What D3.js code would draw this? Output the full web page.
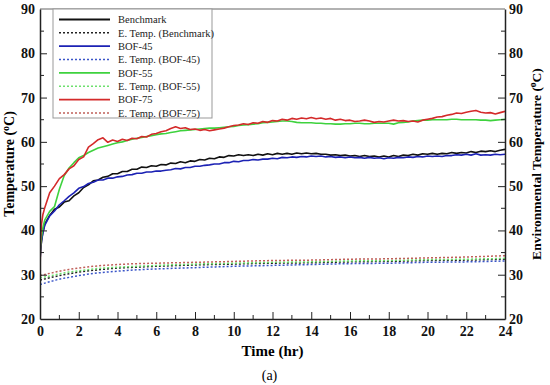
<!DOCTYPE html>
<html>
<head>
<meta charset="utf-8">
<script src="https://cdn.jsdelivr.net/npm/d3@7"></script>
<style>
body { margin: 0; background: #fff; }
</style>
</head>
<body>
<svg id="chart"></svg>
<script>
var width = 550;
var height = 385;
var serif = "Liberation Serif";

var margin = {
    top: 9,
    right: 45,
    bottom: 66,
    left: 40
};

var chartWidth = width - margin.left - margin.right;
var chartHeight = height - margin.top - margin.bottom;

// time (hr) for the measured curves
var times = [0, 0.03, 0.08, 0.15,
    0.25, 0.5, 0.75, 1, 1.25, 1.5, 1.75, 2, 2.25, 2.5, 2.75, 3, 3.25, 3.5, 3.75, 4,
    4.25, 4.5, 4.75, 5, 5.25, 5.5, 5.75, 6, 6.25, 6.5, 6.75, 7, 7.25, 7.5, 7.75, 8, 8.25, 8.5, 8.75, 9,
    9.25, 9.5, 9.75, 10, 10.25, 10.5, 10.75, 11, 11.25, 11.5, 11.75, 12, 12.25, 12.5, 12.75, 13, 13.25, 13.5, 13.75, 14,
    14.25, 14.5, 14.75, 15, 15.25, 15.5, 15.75, 16, 16.25, 16.5, 16.75, 17, 17.25, 17.5, 17.75, 18, 18.25, 18.5, 18.75, 19,
    19.25, 19.5, 19.75, 20, 20.25, 20.5, 20.75, 21, 21.25, 21.5, 21.75, 22, 22.25, 22.5, 22.75, 23, 23.25, 23.5, 23.75, 24];

var benchmark = [33, 35.6, 37.6, 39.6,
    41.5, 43.4, 44.8, 45.3, 46.4, 46.7, 47.8, 48.5, 49.7, 50.3, 51.2, 51.4, 52.0, 52.2, 52.8, 52.8,
    53.3, 53.3, 53.8, 53.8, 54.3, 54.2, 54.6, 54.5, 54.9, 54.8, 55.2, 55.1, 55.5, 55.3, 55.7, 55.6, 56.0, 55.9, 56.3, 56.2,
    56.6, 56.5, 56.9, 56.8, 57.1, 56.9, 57.1, 56.9, 57.2, 57.0, 57.3, 57.1, 57.4, 57.2, 57.4, 57.2, 57.5, 57.3, 57.5, 57.3,
    57.4, 57.2, 57.2, 57.0, 57.1, 56.9, 57.0, 56.8, 56.9, 56.7, 56.9, 56.7, 56.8, 56.6, 56.8, 56.6, 56.9, 56.7, 57.0, 56.9,
    57.2, 57.0, 57.3, 57.2, 57.4, 57.2, 57.4, 57.3, 57.6, 57.4, 57.6, 57.5, 57.8, 57.6, 57.9, 57.8, 58.0, 57.8, 58.1, 58.3];

var bof45 = [33, 35.5, 37.8, 39.5,
    41.2, 43.3, 44.4, 45.8, 46.7, 47.7, 48.5, 49.5, 49.9, 50.6, 50.9, 51.4, 51.4, 51.8, 51.8, 52.1,
    52.2, 52.5, 52.6, 52.9, 52.9, 53.2, 53.2, 53.4, 53.4, 53.6, 53.7, 54.0, 53.9, 54.2, 54.2, 54.5, 54.5, 54.7, 54.8, 55.0,
    55.0, 55.3, 55.3, 55.6, 55.5, 55.8, 55.8, 56.0, 55.9, 56.1, 56.1, 56.3, 56.2, 56.5, 56.4, 56.6, 56.5, 56.7, 56.6, 56.8,
    56.7, 56.8, 56.6, 56.7, 56.5, 56.6, 56.4, 56.6, 56.4, 56.5, 56.3, 56.5, 56.3, 56.4, 56.2, 56.4, 56.3, 56.5, 56.4, 56.6,
    56.5, 56.7, 56.6, 56.8, 56.7, 56.8, 56.7, 56.9, 56.9, 57.1, 57.0, 57.2, 57.0, 57.3, 57.0, 57.1, 57.0, 57.2, 57.1, 57.2];

var bof55 = [34, 36.5, 38.6, 40.6,
    42.4, 44.3, 45.4, 49.3, 52.4, 54.1, 55.3, 56.4, 56.9, 57.6, 58.1, 58.6, 58.9, 59.2, 59.5, 59.8,
    60.0, 60.3, 60.6, 60.8, 61.0, 61.2, 61.4, 61.6, 61.8, 61.9, 62.1, 62.3, 62.5, 62.6, 62.7, 62.8, 62.9, 63.0, 63.1, 63.1,
    63.2, 63.3, 63.4, 63.5, 63.7, 63.8, 63.9, 64.0, 64.1, 64.3, 64.4, 64.5, 64.6, 64.7, 64.7, 64.6, 64.4, 64.3, 64.3, 64.3,
    64.2, 64.2, 64.1, 64.1, 64.0, 64.0, 64.1, 64.1, 64.2, 64.2, 64.1, 64.1, 64.2, 64.2, 64.2, 64.2, 64.0, 64.3, 64.4, 64.5,
    64.7, 64.8, 64.9, 64.9, 65.0, 65.0, 65.0, 65.0, 65.1, 65.1, 65.0, 65.0, 65.0, 65.0, 64.9, 64.9, 64.8, 64.9, 65.0, 65.1];

var bof75 = [30, 38, 41.5, 43.6,
    45.2, 48.5, 50.0, 51.7, 52.6, 53.9, 54.6, 56.0, 56.6, 58.8, 59.6, 60.5, 60.9, 59.9, 60.4, 60.1,
    60.6, 60.3, 60.8, 60.7, 61.2, 61.1, 61.7, 61.9, 62.3, 62.5, 63.0, 63.4, 63.0, 63.2, 62.8, 62.9, 62.6, 62.8, 62.5, 62.7,
    62.9, 63.1, 63.4, 63.7, 63.8, 64.1, 63.9, 64.3, 64.2, 64.6, 64.4, 64.8, 64.7, 65.1, 64.9, 65.3, 65.1, 65.4, 65.2, 65.5,
    65.2, 65.4, 65.1, 65.3, 64.9, 65.1, 64.8, 64.9, 64.6, 64.7, 64.9, 64.7, 64.4, 64.6, 64.5, 64.7, 64.9, 64.7, 64.8, 64.6,
    64.7, 64.5, 64.9, 65.1, 65.3, 65.6, 65.7, 66.0, 66.2, 66.5, 66.4, 66.7, 66.9, 67.1, 66.7, 66.5, 66.6, 66.3, 66.6, 66.9];

// environmental temperature (dotted)
var envTimes = [0, 0.5, 1, 1.5, 2, 3, 4, 5, 6, 8, 10, 12, 14, 16, 18, 20, 22, 24];
var envBenchmark = [28.8, 29.3, 29.8, 30.2, 30.6, 31.1, 31.5, 31.7, 31.9, 32.2, 32.4, 32.6, 32.7, 32.9, 33.0, 33.2, 33.3, 33.5];
var envBof45 = [27.8, 28.4, 29.0, 29.4, 29.8, 30.4, 30.8, 31.1, 31.3, 31.6, 31.9, 32.1, 32.3, 32.5, 32.6, 32.8, 32.9, 33.1];
var envBof55 = [29.3, 29.7, 30.2, 30.6, 30.9, 31.4, 31.7, 31.9, 32.1, 32.4, 32.6, 32.8, 32.9, 33.1, 33.2, 33.4, 33.5, 33.7];
var envBof75 = [29.8, 30.3, 30.8, 31.2, 31.5, 32.0, 32.3, 32.5, 32.6, 32.8, 33.0, 33.2, 33.3, 33.5, 33.6, 33.8, 34.0, 34.3];

var xTicks = [0, 2, 4, 6, 8, 10, 12, 14, 16, 18, 20, 22, 24];
var xMinor = [1, 3, 5, 7, 9, 11, 13, 15, 17, 19, 21, 23];
var yTicks = [20, 30, 40, 50, 60, 70, 80, 90];
var yMinor = [25, 35, 45, 55, 65, 75, 85];

var series = [
    {name: "Benchmark", t: times, v: benchmark, color: "#111111", dotted: false},
    {name: "E. Temp. (Benchmark)", t: envTimes, v: envBenchmark, color: "#222222", dotted: true},
    {name: "BOF-45", t: times, v: bof45, color: "#1c22b4", dotted: false},
    {name: "E. Temp. (BOF-45)", t: envTimes, v: envBof45, color: "#3b56c8", dotted: true},
    {name: "BOF-55", t: times, v: bof55, color: "#3ed23e", dotted: false},
    {name: "E. Temp. (BOF-55)", t: envTimes, v: envBof55, color: "#6ee06e", dotted: true},
    {name: "BOF-75", t: times, v: bof75, color: "#d42a2a", dotted: false},
    {name: "E. Temp. (BOF-75)", t: envTimes, v: envBof75, color: "#c0605a", dotted: true}
];

var svg = d3.select("#chart")
    .attr("width", width)
    .attr("height", height)
    .attr("font-family", serif);

var xScale = d3.scaleLinear()
    .domain([0, 24])
    .range([0, chartWidth]);

var yScale = d3.scaleLinear()
    .domain([20, 90])
    .range([chartHeight, 0]);

var plot = svg.append("g")
    .attr("transform", "translate(" + margin.left + "," + margin.top + ")");

plot.append("clipPath")
    .attr("id", "clip")
    .append("rect")
    .attr("width", chartWidth)
    .attr("height", chartHeight);

// top border
plot.append("line")
    .attr("x1", 0).attr("x2", chartWidth)
    .attr("y1", 0).attr("y2", 0)
    .attr("stroke", "#666")
    .attr("stroke-width", 1.2);

// lines
var line = d3.line()
    .x(function(d) { return xScale(d[0]); })
    .y(function(d) { return yScale(d[1]); });

var smooth = d3.line()
    .curve(d3.curveMonotoneX)
    .x(function(d) { return xScale(d[0]); })
    .y(function(d) { return yScale(d[1]); });

var marks = plot.append("g").attr("clip-path", "url(#clip)");

series.forEach(function(s) {
    var pts = s.t.map(function(t, i) { return [t, s.v[i]]; });
    marks.append("path")
        .attr("d", s.dotted ? smooth(pts) : line(pts))
        .attr("fill", "none")
        .attr("stroke", s.color)
        .attr("stroke-width", s.dotted ? 1.5 : 1.6)
        .attr("stroke-dasharray", s.dotted ? "2,2" : null)
        .attr("stroke-linejoin", "round");
});

// axes
var xAxis = plot.append("g")
    .attr("transform", "translate(0," + chartHeight + ")")
    .call(d3.axisBottom(xScale).tickValues(xTicks).tickSizeInner(-7).tickSizeOuter(0).tickPadding(10).tickFormat(d3.format("d")));

xAxis.selectAll(".tick").filter(function(d) { return d === 0 || d === 24; }).select("line").remove();

xAxis.selectAll(".minor")
    .data(xMinor)
    .enter().append("line")
    .attr("x1", xScale).attr("x2", xScale)
    .attr("y1", 0).attr("y2", -4)
    .attr("stroke", "#222");

var yAxisL = plot.append("g")
    .call(d3.axisLeft(yScale).tickValues(yTicks).tickSizeInner(-7).tickSizeOuter(0).tickPadding(5));

var yAxisR = plot.append("g")
    .attr("transform", "translate(" + chartWidth + ",0)")
    .call(d3.axisRight(yScale).tickValues(yTicks).tickSizeInner(-7).tickSizeOuter(0).tickPadding(4));

[yAxisL, yAxisR].forEach(function(ax, k) {
    ax.selectAll(".tick").filter(function(d) { return d === 20 || d === 90; }).select("line").remove();
    ax.selectAll(".minor")
        .data(yMinor)
        .enter().append("line")
        .attr("x1", 0).attr("x2", k === 0 ? 4 : -4)
        .attr("y1", yScale).attr("y2", yScale)
        .attr("stroke", "#222");
});

// axis groups carry their own font attributes
svg.selectAll(".domain").attr("stroke", "#222").attr("stroke-width", 1.5);
svg.selectAll(".tick line").attr("stroke", "#222");
[xAxis, yAxisL, yAxisR].forEach(function(ax) {
    ax.attr("font-family", serif).attr("font-size", 14).attr("font-weight", "bold");
});
svg.selectAll(".tick text")
    .attr("fill", "#111")
    .attr("font-family", serif)
    .style("font-family", serif);
xAxis.selectAll(".tick text").attr("dy", "0.5em");

// legend
var legend = plot.append("g")
    .attr("transform", "translate(13,0)");

legend.append("rect")
    .attr("x", 0).attr("y", 0)
    .attr("width", 159).attr("height", 109)
    .attr("fill", "#fff")
    .attr("stroke", "#999")
    .attr("stroke-width", 1);

var rows = legend.selectAll(".row")
    .data(series)
    .enter().append("g")
    .attr("class", "row")
    .attr("transform", function(d, i) { return "translate(0," + (10.5 + i * 13.35) + ")"; });

rows.append("line")
    .attr("x1", 6).attr("x2", 57)
    .attr("stroke", function(d) { return d.color; })
    .attr("stroke-width", function(d) { return d.dotted ? 1.5 : 1.8; })
    .attr("stroke-dasharray", function(d) { return d.dotted ? "2,2" : null; });

rows.append("text")
    .attr("x", 65)
    .attr("dy", "0.35em")
    .attr("fill", "#222")
    .attr("font-family", serif)
    .attr("font-size", 10.5)
    .text(function(d) { return d.name; });

// titles
var leftTitle = svg.append("text")
    .attr("transform", "translate(14," + (margin.top + chartHeight / 2) + ") rotate(-90)")
    .attr("text-anchor", "middle")
    .attr("font-family", serif)
    .attr("font-weight", "bold")
    .attr("font-size", 14);
leftTitle.append("tspan").text("Temperature (");
leftTitle.append("tspan").attr("dy", -5).attr("font-size", 10).text("o");
leftTitle.append("tspan").attr("dy", 5).text("C)");

var rightTitle = svg.append("text")
    .attr("transform", "translate(541," + (margin.top + chartHeight / 2) + ") rotate(-90)")
    .attr("text-anchor", "middle")
    .attr("font-family", serif)
    .attr("font-weight", "bold")
    .attr("font-size", 13.5);
rightTitle.append("tspan").text("Environmental Temperature (");
rightTitle.append("tspan").attr("dy", -5).attr("font-size", 9.5).text("o");
rightTitle.append("tspan").attr("dy", 5).text("C)");

svg.append("text")
    .attr("x", margin.left + chartWidth / 2)
    .attr("y", 356)
    .attr("text-anchor", "middle")
    .attr("font-family", serif)
    .attr("font-weight", "bold")
    .attr("font-size", 15)
    .text("Time (hr)");

svg.append("text")
    .attr("x", margin.left + chartWidth / 2 - 3)
    .attr("y", 380)
    .attr("text-anchor", "middle")
    .attr("font-family", serif)
    .attr("font-size", 14)
    .text("(a)");
</script>
</body>
</html>
